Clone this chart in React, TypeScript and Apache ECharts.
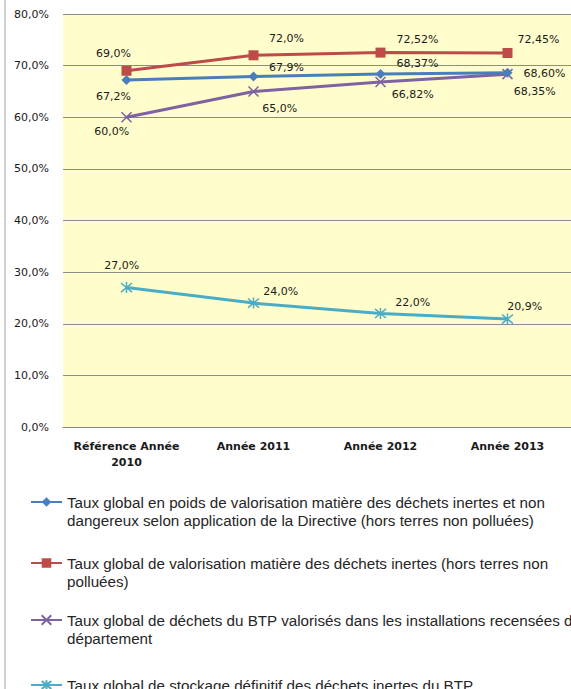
import React, { useEffect, useRef } from "react";
import * as echarts from "echarts";

const categories = ["Référence Année\n2010", "Année 2011", "Année 2012", "Année 2013"];

const seriesNames = [
  "Taux global en poids de valorisation matière des déchets inertes et non dangereux selon application de la Directive (hors terres non polluées)",
  "Taux global de valorisation matière des déchets inertes (hors terres non polluées)",
  "Taux global de déchets du BTP valorisés dans les installations recensées du département",
  "Taux global de stockage définitif des déchets inertes du BTP",
];
const legendLines = [
  ["Taux global en poids de valorisation matière des déchets inertes et non", "dangereux selon application de la Directive (hors terres non polluées)"],
  ["Taux global de valorisation matière des déchets inertes (hors terres non", "polluées)"],
  ["Taux global de déchets du BTP valorisés dans les installations recensées du", "département"],
  ["Taux global de stockage définitif des déchets inertes du BTP"],
];

const valorisationDirective = [67.2, 67.9, 68.37, 68.6];
const valorisationInertes = [69.0, 72.0, 72.52, 72.45];
const valorisesDepartement = [60.0, 65.0, 66.82, 68.35];
const stockageDefinitif = [27.0, 24.0, 22.0, 20.9];

const decimalsDirective = [1, 1, 2, 2];
const decimalsInertes = [1, 1, 2, 2];
const decimalsDepartement = [1, 1, 2, 2];
const decimalsStockage = [1, 1, 1, 1];

const yTicks = [0, 10, 20, 30, 40, 50, 60, 70, 80];

// label offsets from the marker centre (styling)
const offsetsDirective = [[-13, 16], [33, -9], [37, -11], [37, 1]];
const offsetsInertes = [[-13, -17], [33, -17], [37, -13], [31, -13]];
const offsetsDepartement = [[-14, 15], [27, 18], [33, 13], [28, 18]];
const offsetsStockage = [[-4, -21], [28, -11], [33, -10.5], [18, -12]];

const fmt = (v: number, d: number) => v.toFixed(d).replace(".", ",") + "%";

export default function App() {
  const ref = useRef<HTMLDivElement>(null);
  useEffect(() => {
    if (!ref.current) return;
    const chart = echarts.init(ref.current, null, { renderer: "svg" });

    const colors = ["#4A7EBB", "#BE4B48", "#7E62A1", "#4BACC6"];
    const symbols = [
      "diamond",
      "rect",
      "path://M0,0L10,10M10,0L0,10",
      "path://M0,0L10,10M10,0L0,10M5,-1L5,11",
    ];
    const sizes = [10, 10, 10, 11];

    const makeData = (vals: number[], decs: number[], offs: number[][], sz: number) =>
      vals.map((v, i) => ({
        value: v,
        label: {
          formatter: fmt(v, decs[i]),
          position: [sz / 2 + offs[i][0], sz / 2 + offs[i][1]],
        },
      }));

    const labelBase = {
      show: true,
      align: "center",
      verticalAlign: "middle",
      color: "#1a1a1a",
      fontFamily: "DejaVu Sans",
      fontSize: 11,
      textBorderWidth: 0,
    };

    const datas = [
      makeData(valorisationDirective, decimalsDirective, offsetsDirective, sizes[0]),
      makeData(valorisationInertes, decimalsInertes, offsetsInertes, sizes[1]),
      makeData(valorisesDepartement, decimalsDepartement, offsetsDepartement, sizes[2]),
      makeData(stockageDefinitif, decimalsStockage, offsetsStockage, sizes[3]),
    ];

    const series = seriesNames.map((name, i) => ({
      name,
      type: "line",
      data: datas[i],
      symbol: symbols[i],
      symbolSize: sizes[i],
      showAllSymbol: true,
      lineStyle: { color: colors[i], width: 3 },
      itemStyle: {
        color: i >= 2 ? "rgba(0,0,0,0)" : colors[i],
        borderColor: colors[i],
        borderWidth: i >= 2 ? 1.5 : 0,
      },
      label: labelBase,
      z: 3 + (3 - i),
    }));

    const lineH = 18.5;
    const firstLineY = [502, 563, 620, 685];
    const legends = seriesNames.map((name, i) => {
      const lines = legendLines[i];
      const shown = lines.length > 1 ? ["", ...lines] : lines;
      const boxH = lineH * shown.length;
      return {
        data: [name],
        left: 30,
        top: firstLineY[i] - boxH / 2,
        padding: 0,
        itemWidth: 31,
        itemHeight: 12,
        itemGap: 3,
        formatter: () => shown.join("\n"),
        textStyle: {
          fontFamily: "Liberation Sans",
          fontSize: 15.2,
          color: "#262626",
          lineHeight: lineH,
        },
      };
    });

    chart.setOption({
      animation: false,
      backgroundColor: "#ffffff",
      graphic: [
        {
          type: "rect",
          shape: { x: 4, y: 0, width: 2, height: 689 },
          style: { fill: "#d0d0d0" },
          silent: true,
        },
      ],
      legend: legends,
      grid: {
        left: 63,
        right: 0,
        top: 14,
        bottom: 262,
        show: true,
        backgroundColor: "#FFFDCB",
        borderWidth: 0,
      },
      xAxis: {
        type: "category",
        data: categories,
        boundaryGap: true,
        axisLine: { show: true, lineStyle: { color: "#868686", width: 1 } },
        axisTick: { show: false },
        axisLabel: {
          margin: 11,
          fontFamily: "DejaVu Sans",
          fontWeight: "bold",
          fontSize: 11,
          color: "#1a1a1a",
          lineHeight: 16,
          interval: 0,
        },
      },
      yAxis: {
        type: "value",
        min: yTicks[0],
        max: yTicks[yTicks.length - 1],
        interval: 10,
        axisLine: { show: false },
        axisTick: { show: false },
        splitLine: { lineStyle: { color: "#8c8c8c", width: 1 } },
        axisLabel: {
          margin: 14,
          fontFamily: "DejaVu Sans",
          fontSize: 11,
          color: "#1a1a1a",
          formatter: (v: number) => fmt(v, 1),
        },
      },
      series,
    });
    return () => chart.dispose();
  }, []);
  return (
    <div
      ref={ref}
      style={{ position: "absolute", left: 0, top: 0, width: 571, height: 689 }}
    />
  );
}
